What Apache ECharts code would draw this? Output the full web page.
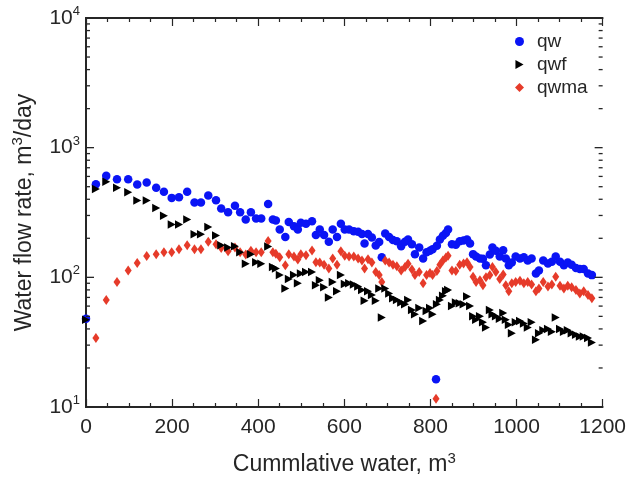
<!DOCTYPE html>
<html>
<head>
<meta charset="utf-8">
<script src="https://cdn.jsdelivr.net/npm/echarts@6/dist/echarts.min.js"></script>
<style>
  html, body { margin: 0; padding: 0; background: #ffffff; }
  #chart { width: 629px; height: 484px; }
</style>
</head>
<body>
<div id="chart"></div>
<script>
// Cumulative water produced (m3) at each measurement
const cumWater = [
  0, 23, 47, 72, 98, 119, 141, 163, 181, 199, 216, 235, 252, 267, 284, 302,
  314, 330, 346, 358, 371, 383, 395, 407, 423, 434, 441, 450, 463, 471, 483, 492,
  499, 511, 525, 534, 543, 553, 564, 573, 583, 592, 601, 611, 622, 632, 641, 647,
  655, 664, 673, 681, 687, 695, 704, 713, 722, 732, 741, 748, 757, 764, 774, 783,
  791, 799, 805, 813, 815, 822, 829, 836, 841, 850, 859, 868, 877, 885, 892, 899,
  906, 915, 922, 929, 938, 944, 952, 961, 969, 975, 982, 989, 998, 1008, 1017, 1026,
  1035, 1045, 1052, 1062, 1073, 1082, 1091, 1101, 1110, 1119, 1128, 1138, 1147, 1156, 1166, 1175
];

// Total water flow rate (m3/day)
const qw = [
  48, 523, 606, 571, 571, 520, 538, 491, 458, 410, 415, 458, 378, 378, 427, 393,
  340, 317, 357, 317, 279, 317, 284, 284, 367, 279, 274, 234, 205, 267, 248, 234,
  264, 259, 271, 212, 234, 212, 188, 234, 205, 259, 234, 234, 227, 225, 216, 182,
  216, 203, 176, 187, 143, 218, 205, 194, 190, 174, 188, 196, 180, 151, 170, 140,
  156, 160, 165, 16.4, 175, 196, 209, 220, 234, 180, 178, 190, 192, 196, 182, 151,
  145, 140, 139, 124, 150, 170, 160, 145, 162, 140, 124, 130, 145, 140, 143, 135,
  140, 107, 113, 135, 128, 132, 145, 132, 124, 130, 125, 118, 116, 116, 107, 104
];

// Fracture water flow rate (m3/day)
const qwf = [
  47, 480, 545, 491, 453, 391, 391, 342, 299, 256, 256, 279, 215, 215, 244, 210,
  177, 170, 174, 156, 127, 151, 131, 127, 173, 120, 117, 104, 82, 97, 104, 90,
  107, 110, 110, 87, 95, 84, 70, 92, 78, 104, 89, 90, 88, 85, 80, 66,
  78, 73, 66, 82, 49, 82, 75, 69, 67, 64, 62, 67, 56, 52, 58, 46,
  55, 58, 52, null, 62, 67, 72, 78, 80, 60, 64, 63, 62, 71, 60, 50,
  47, 50, 45, 41, 56, 52, 50, 48, 53, 47, 43, 37, 45, 46, 44, 41,
  45, 33, 37, 39, 40, 38, 49, 40, 38, 39, 37, 36, 35, 35, 34, 31.5
];

// Matrix water flow rate (m3/day)
const qwma = [
  null, 34, 67, 92, 113, 129, 146, 151, 156, 156, 165, 177, 165, 165, 188, 180,
  168, 159, 170, 156, 150, 160, 156, 156, 191, 156, 152, 143, 124, 151, 145, 137,
  151, 148, 161, 131, 130, 125, 117, 140, 125, 159, 147, 145, 145, 140, 135, 117,
  138, 130, 110, 104, 92, 135, 130, 125, 122, 113, 120, 127, 115, 104, 110, 90,
  104, 108, 104, 11.6, 112, 125, 135, 142, 147, 113, 112, 125, 128, 131, 120, 101,
  92, 95, 87, 100, 104, 120, 110, 97, 105, 87, 78, 90, 92, 94, 90, 92,
  88, 78, 82, 92, 85, 88, 101, 86, 82, 86, 84, 80, 75, 78, 73, 69
];

const seriesNames = ['qw', 'qwf', 'qwma'];
const xRange = [0, 1200];
const yRange = [10, 10000];
const yDecades = [10, 100, 1000, 10000];
// Intermediate log ticks (2..9 within each decade)
const yMinorTicks = [
  20, 30, 40, 50, 60, 70, 80, 90,
  200, 300, 400, 500, 600, 700, 800, 900,
  2000, 3000, 4000, 5000, 6000, 7000, 8000, 9000
];

const FONT = "'Liberation Sans', Arial, Helvetica, sans-serif";
const INK = '#262626';

function pairs(ys) {
  return cumWater.map((x, i) => [x, ys[i] == null ? '-' : ys[i]]);
}

function xAxisDef(position, withLabels) {
  return {
    type: 'value',
    min: xRange[0],
    max: xRange[1],
    interval: 200,
    position: position,
    axisLine: { show: true, lineStyle: { color: INK, width: 2 } },
    axisTick: { show: true, inside: true, length: 8, lineStyle: { color: INK, width: 1.2 } },
    minorTick: { show: true, splitNumber: 4, length: 4, lineStyle: { color: INK, width: 1.2 } },
    splitLine: { show: false },
    minorSplitLine: { show: false },
    axisLabel: withLabels ? {
      show: true, margin: 10, fontSize: 21, fontFamily: FONT, color: INK,
      formatter: v => String(v)
    } : { show: false }
  };
}

function yAxisDef(position, withLabels) {
  return {
    type: 'log',
    logBase: 10,
    min: yRange[0],
    max: yRange[1],
    position: position,
    axisLine: { show: true, lineStyle: { color: INK, width: 2 } },
    axisTick: { show: false },
    minorTick: { show: false },
    splitLine: { show: false },
    axisLabel: withLabels ? {
      show: true,
      margin: 6,
      formatter: v => '{b|10}{s|' + Math.round(Math.log10(v)) + '}',
      rich: {
        b: { fontSize: 21, fontFamily: FONT, color: INK, lineHeight: 26 },
        s: { fontSize: 13, fontFamily: FONT, color: INK, lineHeight: 13, verticalAlign: 'top' }
      }
    } : { show: false }
  };
}

const xBottom = xAxisDef('bottom', true);
xBottom.name = 'Cummlative water, m{s|3}';
xBottom.nameLocation = 'middle';
xBottom.nameGap = 44;
xBottom.nameTextStyle = {
  fontSize: 23, fontFamily: FONT, color: INK, lineHeight: 28,
  rich: {
    s: { fontSize: 15, fontFamily: FONT, color: INK, verticalAlign: 'top', lineHeight: 15 }
  }
};

const yLeft = yAxisDef('left', true);
yLeft.name = 'Water flow rate, m{s|3}/day';
yLeft.nameLocation = 'middle';
yLeft.nameGap = 45;
yLeft.nameTextStyle = {
  fontSize: 23, fontFamily: FONT, color: INK, lineHeight: 28,
  rich: {
    s: { fontSize: 15, fontFamily: FONT, color: INK, verticalAlign: 'top', lineHeight: 15 }
  }
};

// Inward ticks on both vertical frame edges: long at decades, short in between
const yTickRows = yDecades.map(v => [xRange[0], v, 8])
  .concat(yMinorTicks.map(v => [xRange[0], v, 4]));

function renderYTicks(params, api) {
  const v = api.value(1);
  const len = api.value(2);
  const l = api.coord([xRange[0], v]);
  const r = api.coord([xRange[1], v]);
  const style = { stroke: INK, lineWidth: 1.3 };
  return {
    type: 'group',
    children: [
      { type: 'line', shape: { x1: l[0], y1: l[1], x2: l[0] + len, y2: l[1] }, style: style },
      { type: 'line', shape: { x1: r[0] - len, y1: r[1], x2: r[0], y2: r[1] }, style: style }
    ]
  };
}

const chart = echarts.init(document.getElementById('chart'), null, { renderer: 'canvas' });

chart.setOption({
  animation: false,
  backgroundColor: '#ffffff',
  grid: { left: 86, right: 26, top: 18, bottom: 73, containLabel: false },
  legend: {
    orient: 'vertical',
    left: 510,
    top: 25,
    itemWidth: 9,
    itemHeight: 9,
    itemGap: 0,
    data: [
      { name: seriesNames[0], icon: 'circle' },
      { name: seriesNames[1], icon: 'path://M0,0L9,5L0,10Z', itemStyle: { color: '#000000' } },
      { name: seriesNames[2], icon: 'diamond' }
    ],
    textStyle: { fontSize: 19, fontFamily: FONT, color: INK, padding: [0, 0, 0, 8], lineHeight: 23 }
  },
  xAxis: [xBottom, xAxisDef('top', false)],
  yAxis: [yLeft, yAxisDef('right', false)],
  series: [
    {
      name: 'qw', type: 'scatter', data: pairs(qw),
      symbol: 'circle', symbolSize: 8.5, z: 2,
      itemStyle: { color: '#0a14f5', opacity: 1 }
    },
    {
      name: 'qwf', type: 'scatter', data: pairs(qwf),
      symbol: 'triangle', symbolSize: [8.5, 8], symbolRotate: -90, z: 4,
      itemStyle: { color: '#000000', opacity: 1 }
    },
    {
      name: 'qwma', type: 'scatter', data: pairs(qwma),
      symbol: 'diamond', symbolSize: [7, 10], z: 3,
      itemStyle: { color: '#e63b2a', opacity: 1 }
    },
    {
      name: 'yTicks', type: 'custom', silent: true, clip: false, z: 10,
      data: yTickRows,
      encode: { x: 0, y: 1 },
      renderItem: renderYTicks
    }
  ]
});
</script>
</body>
</html>
